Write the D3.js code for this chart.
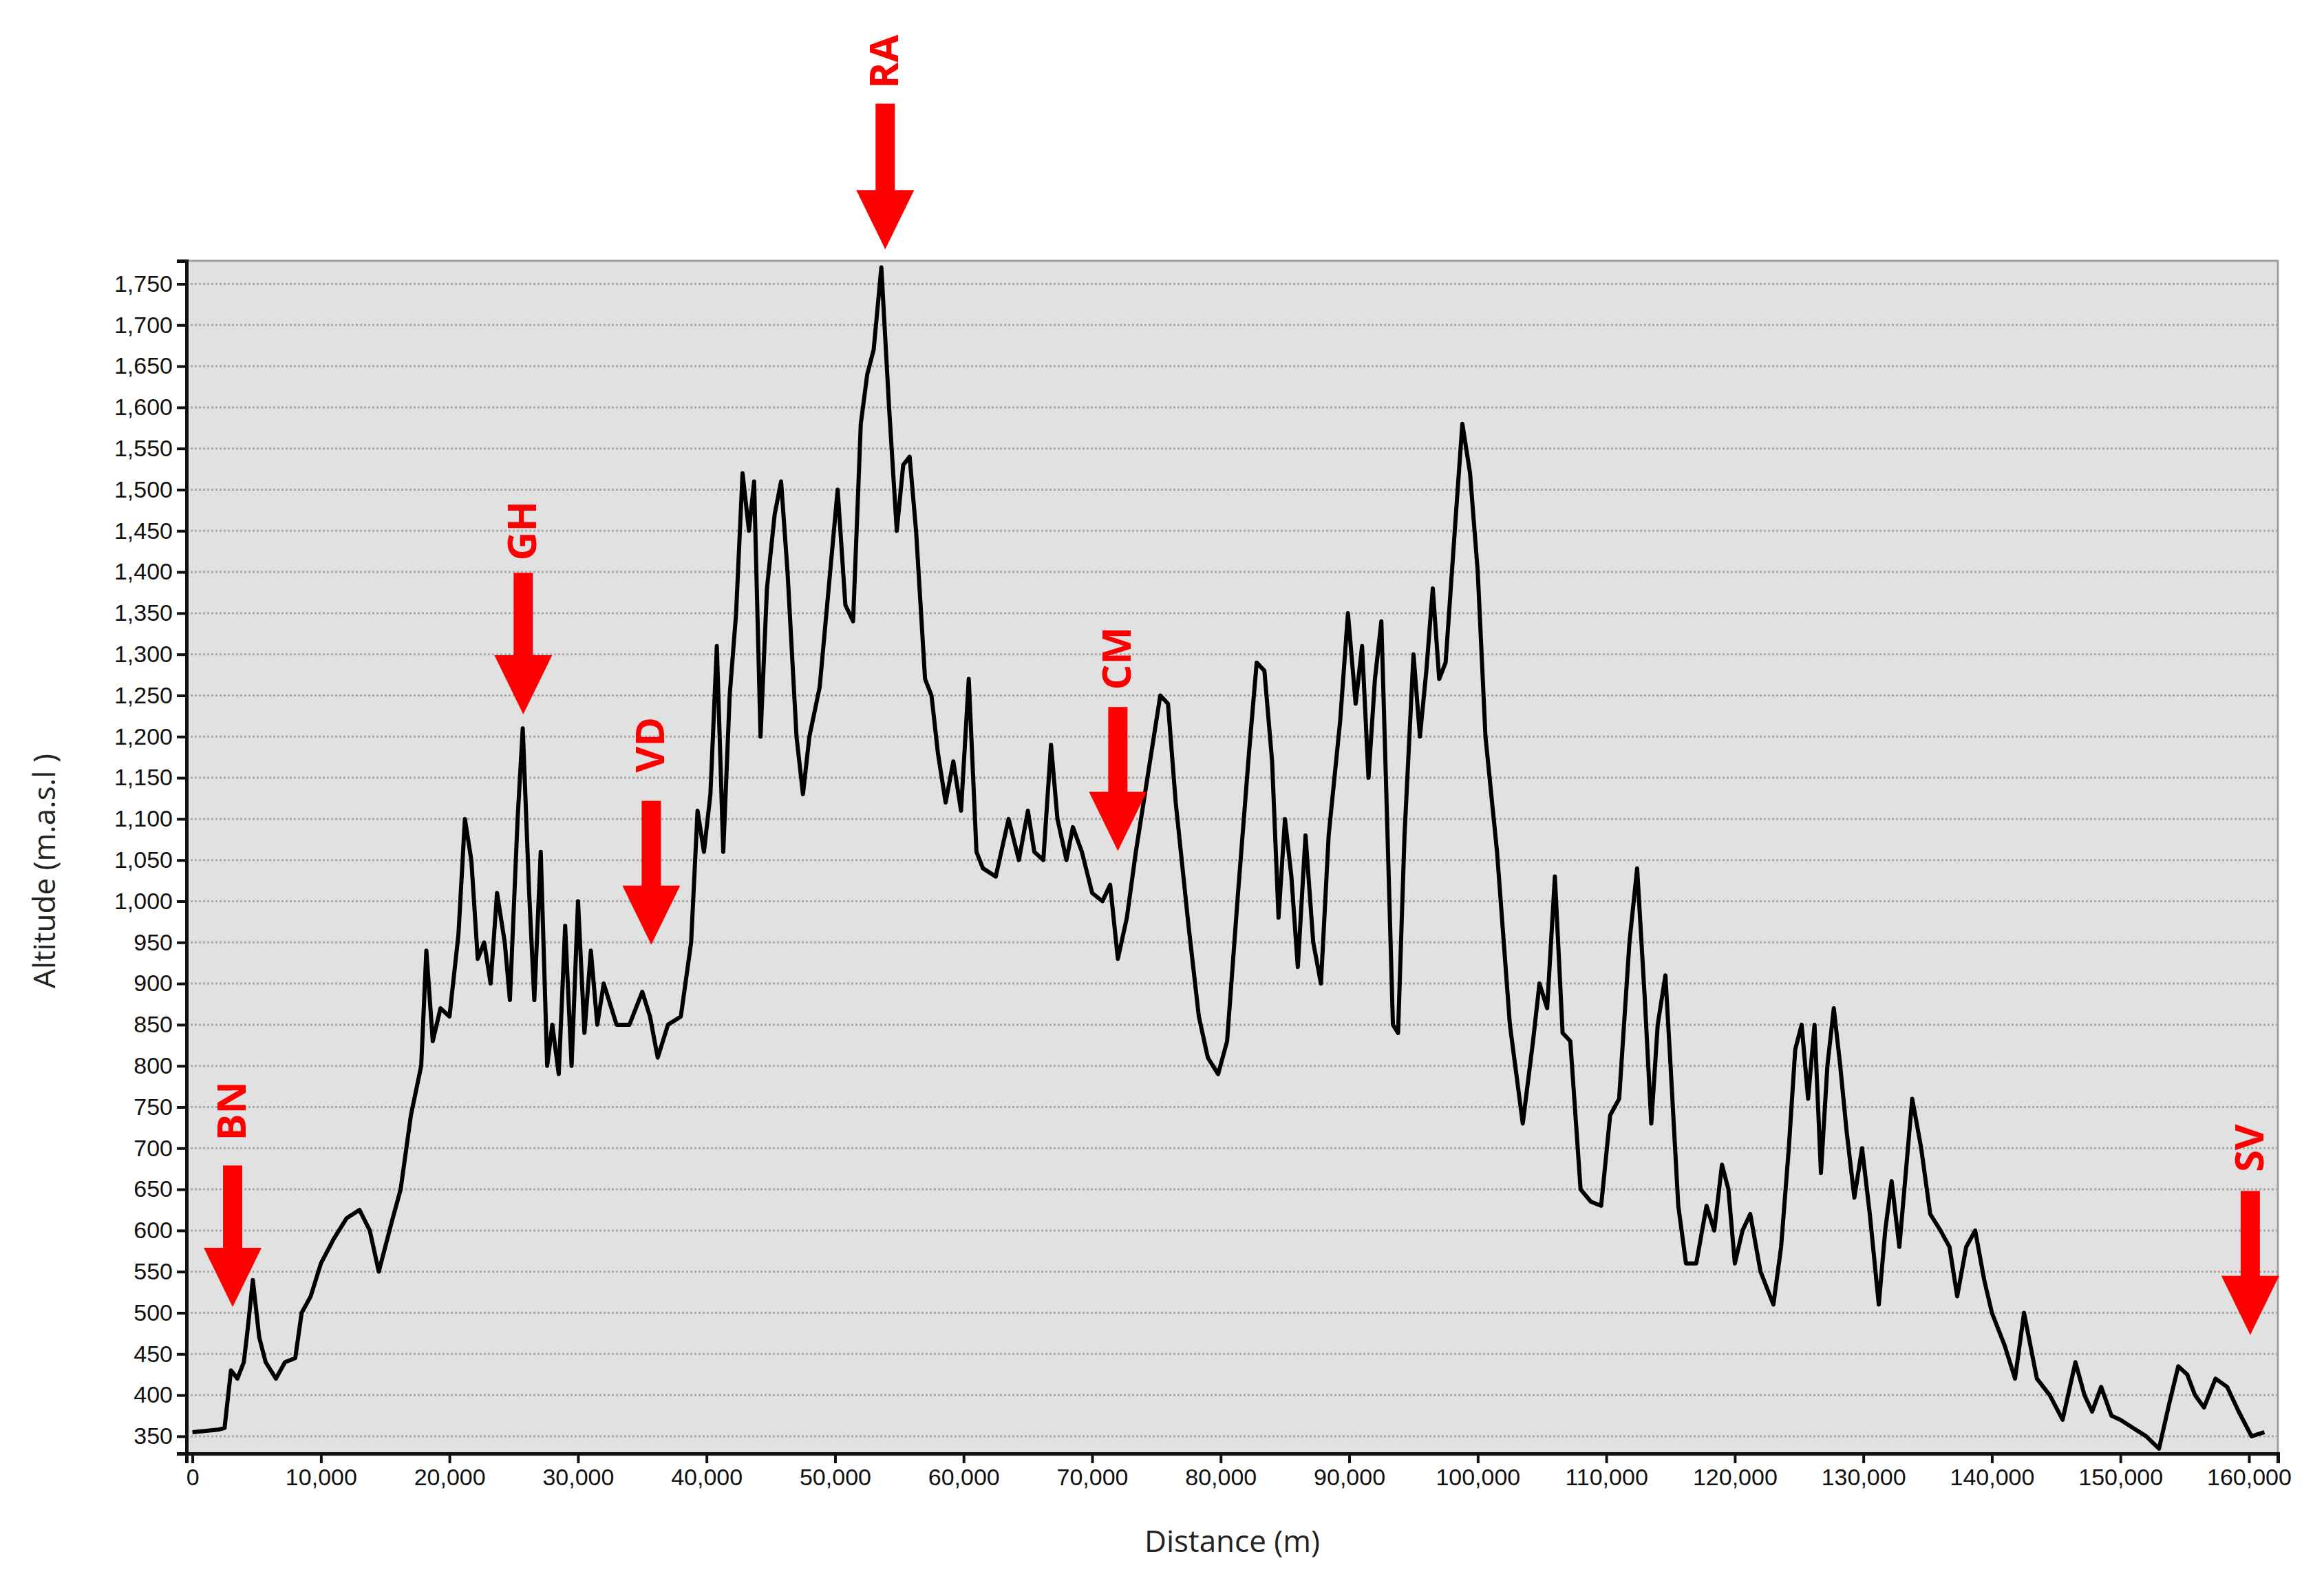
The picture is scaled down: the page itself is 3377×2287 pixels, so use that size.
<!DOCTYPE html>
<html><head><meta charset="utf-8">
<script src="https://cdn.jsdelivr.net/npm/d3@7"></script>
<style>body{margin:0;background:#fff}</style></head>
<body><svg id="c" width="3377" height="2287"></svg>
<script>
const distance = [0,2000,2500,3000,3500,4000,4300,4700,5200,5700,6500,7200,8000,8500,9200,10000,11000,12000,13000,13800,14500,15500,16200,17000,17800,18200,18700,19300,20000,20700,21200,21700,22200,22700,23200,23700,24300,24700,25300,25700,26200,26600,27100,27600,28000,28500,29000,29500,30000,30500,31000,31500,32000,33000,34000,35000,35600,36200,37000,38000,38800,39300,39800,40300,40800,41300,41800,42300,42800,43300,43700,44200,44700,45300,45800,46300,47000,47500,48000,48800,49500,50200,50800,51400,52000,52500,53000,53600,54200,54800,55300,55800,56300,57000,57500,58000,58600,59200,59800,60400,61000,61500,62500,63500,64300,65000,65500,66200,66800,67300,68000,68500,69200,70000,70800,71400,72000,72700,73400,74000,74800,75300,75900,76500,77500,78300,79000,79800,80500,81300,82200,82800,83400,84000,84500,85000,85500,86000,86600,87200,87800,88400,89300,89900,90500,91000,91500,92000,92500,93000,93400,93800,94300,95000,95500,96000,96500,97000,97500,98300,98800,99400,100000,100600,101500,102500,103500,104300,104800,105400,106000,106600,107200,108000,108800,109600,110300,111000,111800,112400,113000,113500,114000,114600,115000,115600,116200,117000,117800,118400,119000,119500,120000,120600,121200,122000,123000,123600,124200,124700,125200,125700,126200,126700,127200,127700,128200,128700,129300,129900,130500,131200,131700,132200,132800,133800,134500,135200,136000,136700,137300,138000,138700,139400,140000,141000,141800,142500,143000,143500,144500,145500,146500,147200,147800,148500,149300,150000,151000,152000,153000,153800,154500,155200,155800,156500,157400,158300,159200,160200,161200,162000];
const altitude = [355,358,360,430,420,440,480,540,470,440,420,440,445,500,520,560,590,615,625,600,550,610,650,740,800,940,830,870,860,960,1100,1050,930,950,900,1010,950,880,1100,1210,1010,880,1060,800,850,790,970,800,1000,840,940,850,900,850,850,890,860,810,850,860,950,1110,1060,1130,1310,1060,1250,1350,1520,1450,1510,1200,1380,1470,1510,1400,1200,1130,1200,1260,1380,1500,1360,1340,1580,1640,1670,1770,1600,1450,1530,1540,1450,1270,1250,1180,1120,1170,1110,1270,1060,1040,1030,1100,1050,1110,1060,1050,1190,1100,1050,1090,1060,1010,1000,1020,930,980,1060,1120,1200,1250,1240,1120,970,860,810,790,830,1000,1180,1290,1280,1170,980,1100,1030,920,1080,950,900,1080,1220,1350,1240,1310,1150,1270,1340,1070,850,840,1080,1300,1200,1280,1380,1270,1290,1470,1580,1520,1400,1200,1060,850,730,830,900,870,1030,840,830,650,635,630,740,760,950,1040,880,730,850,910,800,630,560,560,630,600,680,650,560,600,620,550,510,580,700,820,850,760,850,670,800,870,800,720,640,700,620,510,600,660,580,760,700,620,600,580,520,580,600,540,500,460,420,500,460,420,400,370,440,400,380,410,375,370,360,350,335,390,435,425,400,385,420,410,380,350,355];
const yTicks = d3.range(350, 1751, 50);
const xTicks = d3.range(0, 160001, 10000);
const markerNames = ["BN","GH","VD","RA","CM","SV"];
const markerDist = [3130,25740,35700,53900,72000,160100];
const markerTip = [507,1227,947,1792,1061,473];
const markerTop = [679,1399,1122,1969,1236,648];
const markerLabel = [745,1450,1190,2020,1295,700];

const svg = d3.select("#c");
const L=271,R=3310,T=379,B=2112;
const x = d3.scaleLinear().domain([-460,162250]).range([L,R]);
const y = d3.scaleLinear().domain([329,1778]).range([B,T]);

svg.append("rect").attr("x",L).attr("y",T).attr("width",R-L).attr("height",B-T).attr("fill","#e1e1e1").attr("stroke","#a0a0a0").attr("stroke-width",3);
svg.append("g").selectAll("line").data(yTicks).join("line")
  .attr("x1",L).attr("x2",R).attr("y1",d=>y(d)).attr("y2",d=>y(d))
  .attr("stroke","#a8a8a8").attr("stroke-width",3).attr("stroke-dasharray","3,3");

const ya = svg.append("g").attr("transform",`translate(${L},0)`)
  .call(d3.axisLeft(y).tickValues(yTicks).tickFormat(d3.format(",")).tickSize(14).tickPadding(6));
const xa = svg.append("g").attr("transform",`translate(0,${B})`)
  .call(d3.axisBottom(x).tickValues(xTicks).tickFormat(d3.format(",")).tickSize(14).tickPadding(8));
[ya,xa].forEach(a=>{a.selectAll("text").attr("font-family","Liberation Sans, Arial").attr("font-size",34).attr("fill","#111");
 a.selectAll("line").attr("stroke","#111").attr("stroke-width",4);
 a.select(".domain").attr("stroke","#111").attr("stroke-width",5);});

svg.append("path").datum(distance.map((d,i)=>[d,altitude[i]]))
 .attr("fill","none").attr("stroke","#000").attr("stroke-width",6).attr("stroke-linejoin","round")
 .attr("d",d3.line().x(d=>x(d[0])).y(d=>y(d[1])));

svg.append("text").attr("x",(L+R)/2).attr("y",2255).attr("text-anchor","middle")
 .attr("font-family","Open Sans, Liberation Sans").attr("font-size",44).attr("fill","#222").text("Distance (m)");
svg.append("text").attr("transform",`translate(80,${(T+B)/2+20}) rotate(-90)`).attr("text-anchor","middle")
 .attr("font-family","Open Sans, Liberation Sans").attr("font-size",44).attr("fill","#222").text("Altitude (m.a.s.l )");

const red="#ff0000", headH=86, headW=84, shaftW=28;
markerNames.forEach((n,i)=>{
  const cx=x(markerDist[i]), tip=y(markerTip[i]), top=y(markerTop[i]);
  svg.append("rect").attr("x",cx-shaftW/2).attr("y",top).attr("width",shaftW).attr("height",tip-headH-top+2).attr("fill",red);
  svg.append("path").attr("d",`M${cx-headW/2},${tip-headH}L${cx+headW/2},${tip-headH}L${cx},${tip}Z`).attr("fill",red);
  svg.append("text").attr("transform",`translate(${cx+19},${y(markerLabel[i])}) rotate(-90)`)
   .attr("text-anchor","middle").attr("font-family","Open Sans, Liberation Sans").attr("font-weight","bold")
   .attr("font-size",58).attr("fill",red).text(n);
});
</script></body></html>
